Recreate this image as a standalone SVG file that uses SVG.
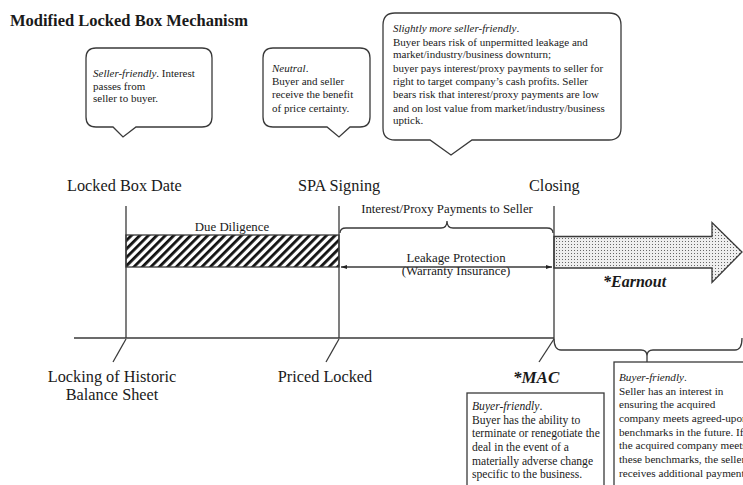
<svg xmlns="http://www.w3.org/2000/svg" width="743" height="485" viewBox="0 0 743 485">
<style>
text{font-family:"Liberation Serif","Times New Roman",serif;fill:#1a1a1a}
.t{font-size:16.3px}
.s{font-size:11px}
.m{font-size:12.8px}
.b{font-size:11.6px}
.e{font-size:11.2px}
.ln{stroke:#3a3a3a;stroke-width:1.3;fill:none}
.call{stroke:#3a3a3a;stroke-width:1.3;fill:#fff}
.i{font-style:italic}
.bi{font-weight:bold;font-style:italic;font-size:16px}
</style>
<defs>
<pattern id="hatch" width="6" height="6" patternUnits="userSpaceOnUse" patternTransform="rotate(45)">
<rect width="6" height="6" fill="#fff"/>
<rect x="0" y="0" width="2.8" height="6" fill="#111"/>
</pattern>
<pattern id="dots" width="3" height="3" patternUnits="userSpaceOnUse">
<rect width="3" height="3" fill="#eeeeee"/>
<rect x="1" y="1" width="1" height="1" fill="#666"/>
</pattern>
<marker id="ah" viewBox="0 0 10 10" refX="10" refY="5" markerWidth="6" markerHeight="6" orient="auto-start-reverse" markerUnits="userSpaceOnUse">
<path d="M0,1.5 L10,5 L0,8.5 z" fill="#222"/>
</marker>
</defs>
<rect width="743" height="485" fill="#fff"/>
<text x="10" y="26" style="font-weight:bold;font-size:16.5px">Modified Locked Box Mechanism</text>

<g id="callout-seller">
<path class="call" d="M96,48 H202 Q212,48 212,58 V117 Q212,127 202,127 H136 L123,137 L113,127 H96 Q86,127 86,117 V58 Q86,48 96,48 Z"/>
<text class="s" x="93" y="77"><tspan class="i">Seller-friendly</tspan>. Interest</text>
<text class="s" x="93" y="90">passes from</text>
<text class="s" x="93" y="102">seller to buyer.</text>
</g>

<g id="callout-neutral">
<path class="call" d="M273,48 H360 Q370,48 370,58 V117 Q370,127 360,127 H350 L339,137 L327,127 H273 Q263,127 263,117 V58 Q263,48 273,48 Z"/>
<text class="s" x="272" y="72"><tspan class="i">Neutral</tspan>.</text>
<text class="s" x="272" y="85">Buyer and seller</text>
<text class="s" x="272" y="98">receive the benefit</text>
<text class="s" x="272" y="112">of price certainty.</text>
</g>

<g id="callout-slightly">
<path class="call" d="M395,13 H609 Q621,13 621,25 V128 Q621,140 609,140 H472 L451,155 L430,140 H395 Q383,140 383,128 V25 Q383,13 395,13 Z"/>
<text class="s" x="393" y="32"><tspan class="i">Slightly more seller-friendly</tspan>.</text>
<text class="s" x="393" y="46">Buyer bears risk of unpermitted leakage and</text>
<text class="s" x="393" y="58">market/industry/business downturn;</text>
<text class="s" x="393" y="72">buyer pays interest/proxy payments to seller for</text>
<text class="s" x="393" y="85">right to target company’s cash profits. Seller</text>
<text class="s" x="393" y="98">bears risk that interest/proxy payments are low</text>
<text class="s" x="393" y="112">and on lost value from market/industry/business</text>
<text class="s" x="393" y="124">uptick.</text>
</g>

<g id="locked-box-date">
<text class="t" x="67" y="191">Locked Box Date</text>
</g>
<g id="spa-signing">
<text class="t" x="298" y="191">SPA Signing</text>
</g>
<g id="closing">
<text class="t" x="529" y="191">Closing</text>
</g>

<g id="due-diligence">
<rect x="126" y="235" width="213" height="32" fill="url(#hatch)" stroke="#3a3a3a" stroke-width="1.3"/>
<text class="m" x="232" y="231" text-anchor="middle">Due Diligence</text>
</g>

<g id="earnout-arrow">
<path d="M554,236.5 H712 V222.5 L742,252 L712,282.5 V268 H554 Z" fill="url(#dots)" stroke="#3a3a3a" stroke-width="1.3"/>
<text class="bi" x="603" y="287">*Earnout</text>
</g>

<g id="interest-label">
<text class="m" x="447" y="213" text-anchor="middle">Interest/Proxy Payments to Seller</text>
</g>
<g id="leakage-label">
<text class="m" x="456" y="262" text-anchor="middle">Leakage Protection</text>
<text class="m" x="456" y="275" text-anchor="middle">(Warranty Insurance)</text>
</g>

<g id="connectors">
<line class="ln" x1="126" y1="206" x2="126" y2="338"/>
<line class="ln" x1="339" y1="206" x2="339" y2="338"/>
<line class="ln" x1="554" y1="206" x2="554" y2="338"/>
<line class="ln" x1="74" y1="338" x2="554" y2="338"/>
<path class="ln" d="M340,233 Q340,228 346,228 L441,228 Q447,228 447,221 Q447,228 453,228 L547,228 Q553,228 553,233"/>
<line class="ln" x1="341" y1="267" x2="552" y2="267" marker-start="url(#ah)" marker-end="url(#ah)"/>
<path class="ln" d="M554,338 Q554,350 561,350 L641,350 Q647,350 647,356 L647,362 M647,356 Q647,350 653,350 L735,350 Q742,350 742,338"/>
<line class="ln" x1="126" y1="339" x2="113" y2="362"/>
<line class="ln" x1="339" y1="339" x2="326" y2="362"/>
<line class="ln" x1="554" y1="339" x2="539" y2="362"/>
</g>

<g id="locking-historic">
<text class="t" x="112" y="382" text-anchor="middle">Locking of Historic</text>
<text class="t" x="112" y="400" text-anchor="middle">Balance Sheet</text>
</g>
<g id="priced-locked">
<text class="t" x="325" y="382" text-anchor="middle">Priced Locked</text>
</g>

<g id="mac">
<text class="bi" x="513" y="383" style="font-size:17px">*MAC</text>
<rect x="467" y="393" width="137" height="100" fill="#fff" stroke="#3a3a3a" stroke-width="1.3"/>
<text class="b" x="472" y="410"><tspan class="i">Buyer-friendly</tspan>.</text>
<text class="b" x="472" y="424">Buyer has the ability to</text>
<text class="b" x="472" y="437">terminate or renegotiate the</text>
<text class="b" x="472" y="451">deal in the event of a</text>
<text class="b" x="472" y="465">materially adverse change</text>
<text class="b" x="472" y="478">specific to the business.</text>
</g>

<g id="earnout-box">
<rect x="614" y="362" width="140" height="130" fill="#fff" stroke="#3a3a3a" stroke-width="1.3"/>
<text class="e" x="619" y="381"><tspan class="i">Buyer-friendly</tspan>.</text>
<text class="e" x="619" y="395">Seller has an interest in</text>
<text class="e" x="619" y="408">ensuring the acquired</text>
<text class="e" x="619" y="422">company meets agreed-upon</text>
<text class="e" x="619" y="436">benchmarks in the future. If</text>
<text class="e" x="619" y="449">the acquired company meets</text>
<text class="e" x="619" y="463">these benchmarks, the seller</text>
<text class="e" x="619" y="477">receives additional payment</text>
</g>
</svg>
